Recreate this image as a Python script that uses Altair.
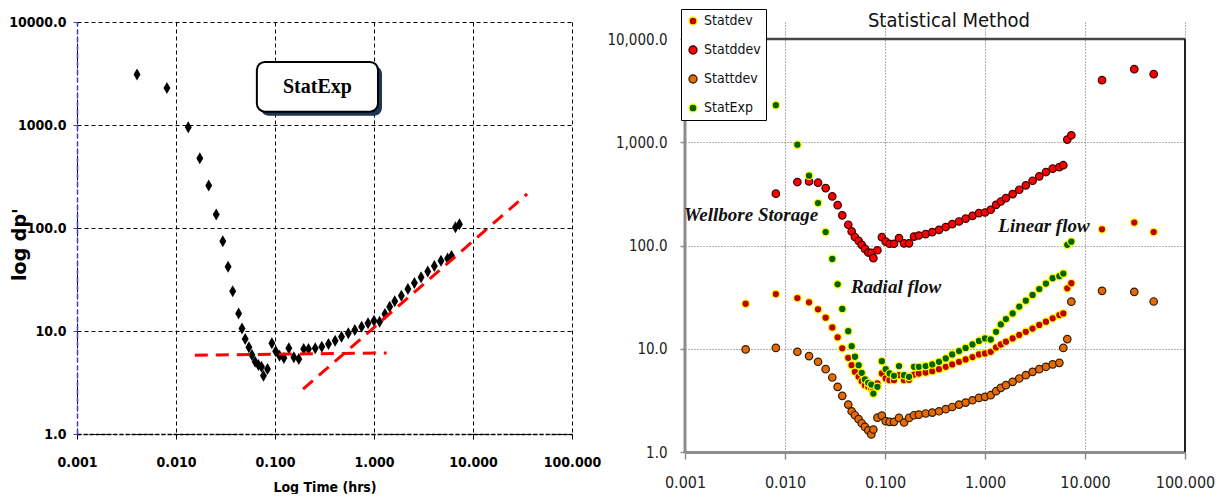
import altair as alt
import pandas as pd

# ---------------- data ----------------
time_hrs = [0.00404, 0.0081, 0.0133, 0.0174, 0.0214, 0.0255, 0.0297, 0.0336, 0.0374, 0.0429,
            0.0464, 0.050, 0.0545, 0.0585, 0.063, 0.068, 0.073, 0.0765, 0.084, 0.093,
            0.1016, 0.111, 0.123, 0.138, 0.155, 0.174, 0.195, 0.218, 0.255, 0.297,
            0.347, 0.405, 0.47, 0.55, 0.64, 0.75, 0.87, 1.0, 1.14, 1.29,
            1.44, 1.62, 1.89, 2.2, 2.56, 2.99, 3.49, 4.07, 4.75, 5.54,
            6.07, 6.65, 7.3, 14.8, 31.1, 48.6]

statdev = [27.3, 33.9, 31, 28.2, 24.1, 20.0, 16.1, 12.9, 10.1, 8.18,
           6.94, 5.98, 5.35, 4.85, 4.44, 4.28, 4.12, 4.0, 4.61, 5.76,
           5.15, 4.96, 4.96, 5.55, 4.96, 5.0, 5.63, 5.76, 5.89, 6.07,
           6.35, 6.69, 7.05, 7.48, 7.88, 8.30, 8.81, 9.0, 9.35, 10.3,
           11.0, 11.7, 12.6, 13.6, 14.6, 15.7, 17.0, 18.3, 19.7, 21.2,
           22.0, 38.5, 43.1, 143.6, 167, 135]

statddev = [None, 318, 412, 418, 406, 360, 299, 246, 196, 159,
            137, 121, 111, 101.5, 92.9, 85.5, 85, 75.4, 90, 120.5,
            109, 104, 104, 118, 105, 105, 122, 125, 129, 135,
            142, 151, 161, 171, 182, 194, 206, 209, 222, 248,
            267, 288, 315, 347, 383, 424, 468, 515, 555, 575,
            600, 1062, 1169, 3999, 5110, 4570]

stattdev = [9.85, 10.2, 9.35, 8.49, 7.48, 6.35, 5.27, 4.28, 3.50, 2.88,
            2.48, 2.27, 2.08, 1.90, 1.75, 1.62, 1.48, 1.65, 2.15, 2.25,
            1.99, 1.96, 1.96, 2.14, 1.93, 2.14, 2.27, 2.30, 2.36, 2.41,
            2.48, 2.60, 2.73, 2.88, 3.01, 3.17, 3.34, 3.42, 3.55, 3.88,
            4.18, 4.44, 4.78, 5.15, 5.55, 5.98, 6.35, 6.69, 7.05, 7.3,
            10.2, 12.4, 28.6, 36.4, 35.6, 28.7]

statexp = [3097, 2287, 949, 475, 258, 135, 74.2, 42.1, 24.3, 14.8,
           10.6, 8.37, 6.94, 5.85, 5.04, 4.68, 4.5, 3.68, 4.28, 7.59,
           6.35, 5.76, 5.47, 6.79, 5.55, 5.35, 6.69, 6.69, 6.8, 7.05,
           7.48, 8.06, 8.81, 9.49, 10.2, 11.0, 11.9, 12.6, 12.3, 14.6,
           17.2, 19.4, 22.0, 25.6, 29.2, 33.2, 37.9, 42.8, 48.2, 50.5,
           53.5, 101.5, 109, None, None, None]

series_names = ["Statdev", "Statddev", "Stattdev", "StatExp"]
series_values = [statdev, statddev, stattdev, statexp]

x_ticks = [0.001, 0.01, 0.1, 1, 10, 100]
y_ticks = [1, 10, 100, 1000, 10000]

# red dashed guide lines of the left panel (end points)
guide_names = ["radial", "radial", "linear", "linear"]
guide_t = [0.0155, 1.34, 0.192, 35.2]
guide_v = [5.82, 6.13, 2.72, 214]

# "StatExp" label box of the left panel
box_t = [0.0656, 1.097]
box_v = [1347, 4093]
box_label = ["StatExp"]
box_label_t = [0.268]
box_label_v = [2348]

# flow-regime annotations of the right panel
annot_text = ["Wellbore Storage", "Radial flow", "Linear flow"]
annot_t = [0.00457, 0.129, 3.89]
annot_v = [198, 39.8, 154.5]

# right panel title and frame (data coordinates)
title_text = ["Statistical Method"]
title_t = [0.436]
title_v = [14950]
frame_x = [0.001, 100]
frame_y = [1, 10000]
y_top_right = 14630  # right panel's value range reaches a little above its top grid line

# ---------------- styles ----------------
fill_colors = ["#c00000", "#ff0000", "#e36c09", "#006400"]
stroke_colors = ["#ffff00", "#3a0000", "#3a1a00", "#ffff00"]
NARROW = "Liberation Sans Narrow, DejaVu Sans Condensed, sans-serif"
SERIF = "Liberation Serif, DejaVu Serif, serif"

# ---------------- tables ----------------
rows = []
for name, vals in zip(series_names, series_values):
    for t, v in zip(time_hrs, vals):
        if v is not None:
            rows.append({"t": t, "v": v, "series": name})
df = pd.DataFrame(rows)
df_exp = df[df.series == "StatExp"]

df_guides = pd.DataFrame({"t": guide_t, "v": guide_v, "g": guide_names})
df_box = pd.DataFrame({"t0": [box_t[0]], "t1": [box_t[1]], "v0": [box_v[0]], "v1": [box_v[1]]})
df_box_label = pd.DataFrame({"t": box_label_t, "v": box_label_v, "txt": box_label})
df_annot = pd.DataFrame({"t": annot_t, "v": annot_v, "txt": annot_text})
df_title = pd.DataFrame({"t": title_t, "v": title_v, "txt": title_text})
df_frame_top = pd.DataFrame({"t0": [frame_x[0]], "t1": [frame_x[1]], "v": [frame_y[1]]})
df_frame_right = pd.DataFrame({"t": [frame_x[1]], "v0": [frame_y[0]], "v1": [frame_y[1]]})
df_frame_left = pd.DataFrame({"t": [frame_x[0]], "v0": [frame_y[0]], "v1": [frame_y[1]]})

# ---------------- left panel ----------------
xs = alt.Scale(type="log", domain=[0.001, 100], nice=False)
ys = alt.Scale(type="log", domain=[1, 10000], nice=False)

left_x_axis = alt.Axis(values=x_ticks, format=".3f", title="Log Time (hrs)",
                       grid=True, gridColor="#000", gridDash=[4, 3], gridWidth=1,
                       domainColor="#000", domainDash=[4, 2], domainWidth=1.5,
                       tickColor="#000", tickSize=5, labelFlush=False, labelOverlap=False,
                       labelFont=NARROW, labelFontSize=14, labelFontWeight="bold", labelColor="#000",
                       labelPadding=16, titleFont=NARROW, titleFontSize=14, titleFontWeight="bold",
                       titleColor="#000", titlePadding=11)
left_y_axis = alt.Axis(values=y_ticks, format=".1f", title="log dp'",
                       grid=True, gridColor="#000", gridDash=[4, 3], gridWidth=1,
                       domainColor="#3a3acc", domainDash=[5, 3], domainWidth=1.5,
                       tickColor="#3a3acc", tickSize=4, labelOverlap=False,
                       labelFont=NARROW, labelFontSize=14, labelFontWeight="bold", labelColor="#000",
                       labelPadding=7, titleFont="DejaVu Sans", titleFontSize=19, titleFontWeight="bold",
                       titleColor="#000", titleAngle=-90, titleX=-58, titleY=222,
                       titleBaseline="middle", titleAlign="center", zindex=1)

diamonds = alt.Chart(df_exp).mark_point(
    shape="M0,-1.3L0.75,0L0,1.3L-0.75,0Z", filled=True, color="#000", size=85, opacity=1
).encode(
    x=alt.X("t:Q", scale=xs, axis=left_x_axis),
    y=alt.Y("v:Q", scale=ys, axis=left_y_axis),
)

guides = alt.Chart(df_guides).mark_line(color="#ff0000", strokeDash=[13, 8], strokeWidth=3).encode(
    x=alt.X("t:Q", scale=xs), y=alt.Y("v:Q", scale=ys), detail="g:N"
)

box_shadow = alt.Chart(df_box).mark_rect(
    fill="#1f3556", cornerRadius=8, xOffset=4, x2Offset=4, yOffset=4, y2Offset=4
).encode(x=alt.X("t0:Q", scale=xs), x2="t1:Q", y=alt.Y("v0:Q", scale=ys), y2="v1:Q")

box = alt.Chart(df_box).mark_rect(
    fill="#ffffff", stroke="#000", strokeWidth=2, cornerRadius=8
).encode(x=alt.X("t0:Q", scale=xs), x2="t1:Q", y=alt.Y("v0:Q", scale=ys), y2="v1:Q")

box_text = alt.Chart(df_box_label).mark_text(
    font=SERIF, fontSize=20, fontWeight="bold", color="#000"
).encode(x=alt.X("t:Q", scale=xs), y=alt.Y("v:Q", scale=ys), text="txt:N")

left = alt.layer(diamonds, guides, box_shadow, box, box_text).properties(
    width=495, height=412,
    view=alt.ViewBackground(stroke=None, fill="#ffffff"),
)

# ---------------- right panel ----------------
xs2 = alt.Scale(type="log", domain=[0.001, 100], nice=False)
ys2 = alt.Scale(type="log", domain=[1, y_top_right], nice=False)

right_x_axis = alt.Axis(values=x_ticks, format=".3f", title=None,
                        grid=True, gridColor="#666", gridDash=[1, 2], gridWidth=1,
                        domainColor="#8c8c8c", domainWidth=3,
                        tickColor="#8c8c8c", tickSize=7, tickWidth=1.5, labelFlush=False, labelOverlap=False,
                        labelFont=NARROW, labelFontSize=16, labelColor="#222", labelPadding=15)
right_y_axis = alt.Axis(values=y_ticks, format=",.1f", title=None, domain=False,
                        grid=True, gridColor="#666", gridDash=[1, 2], gridWidth=1,
                        tickColor="#8c8c8c", tickSize=5, tickWidth=1.5, labelOverlap=False,
                        labelFont=NARROW, labelFontSize=15, labelColor="#222", labelPadding=13)

legend = alt.Legend(title=None, orient="none", legendX=-4, legendY=-13,
                    fillColor="#ffffff", strokeColor="#000", padding=5,
                    labelFont=NARROW, labelFontSize=14, labelColor="#111",
                    symbolType="circle", symbolSize=64, symbolStrokeWidth=1.3,
                    rowPadding=15, labelOffset=4)

frame_top = alt.Chart(df_frame_top).mark_rule(color="#444", strokeWidth=2.5).encode(
    x=alt.X("t0:Q", scale=xs2), x2="t1:Q", y=alt.Y("v:Q", scale=ys2))
frame_right = alt.Chart(df_frame_right).mark_rule(color="#222", strokeWidth=2).encode(
    x=alt.X("t:Q", scale=xs2), y=alt.Y("v0:Q", scale=ys2), y2="v1:Q")
frame_left = alt.Chart(df_frame_left).mark_rule(color="#8c8c8c", strokeWidth=3).encode(
    x=alt.X("t:Q", scale=xs2), y=alt.Y("v0:Q", scale=ys2), y2="v1:Q")

circles = alt.Chart(df).mark_point(shape="circle", filled=True, size=56, strokeWidth=1.2, opacity=1).encode(
    x=alt.X("t:Q", scale=xs2, axis=right_x_axis),
    y=alt.Y("v:Q", scale=ys2, axis=right_y_axis),
    fill=alt.Fill("series:N", scale=alt.Scale(domain=series_names, range=fill_colors), legend=legend),
    stroke=alt.Stroke("series:N", scale=alt.Scale(domain=series_names, range=stroke_colors), legend=legend),
)

annots = alt.Chart(df_annot).mark_text(
    font=SERIF, fontSize=19, fontWeight="bold", fontStyle="italic", color="#111"
).encode(x=alt.X("t:Q", scale=xs2), y=alt.Y("v:Q", scale=ys2), text="txt:N")

title_mark = alt.Chart(df_title).mark_text(
    font=NARROW, fontSize=20, color="#111"
).encode(x=alt.X("t:Q", scale=xs2), y=alt.Y("v:Q", scale=ys2), text="txt:N")

right = alt.layer(circles, frame_top, frame_right, frame_left, annots, title_mark).properties(
    width=500, height=430,
    view=alt.ViewBackground(stroke=None, fill="#ffffff"),
)

chart = (
    alt.hconcat(left, right, spacing=5)
    .resolve_legend(fill="independent", stroke="independent")
    .properties(padding=0)
    .configure_view(strokeWidth=0)
)

chart.save("out.html", embed_options={"renderer": "svg", "actions": False})
